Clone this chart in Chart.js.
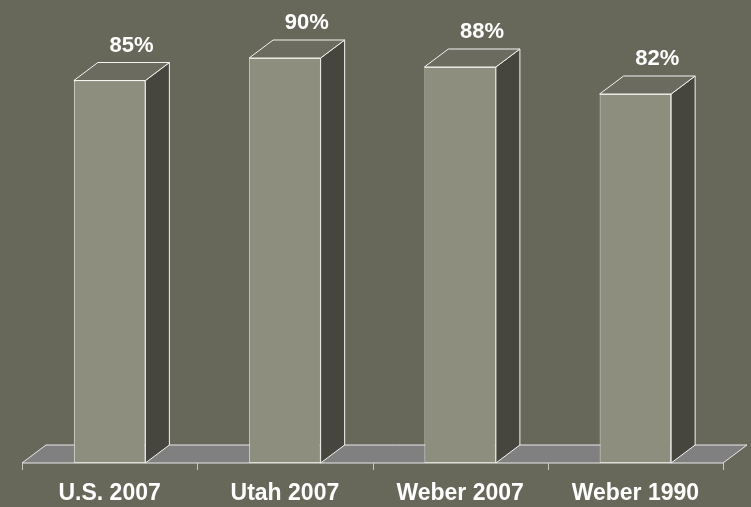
<!DOCTYPE html>
<html>
<head>
<meta charset="utf-8">
<script src="https://cdn.jsdelivr.net/npm/chart.js@4/dist/chart.umd.min.js"></script>
<style>
  html, body { margin: 0; padding: 0; background: #67685a; }
  #wrap { width: 751px; height: 507px; }
</style>
</head>
<body>
<div id="wrap"><canvas id="myChart" width="751" height="507"></canvas></div>
<script>
// data
const categories = ["U.S. 2007", "Utah 2007", "Weber 2007", "Weber 1990"];
const percentValues = [85, 90, 88, 82];
const yMin = 0;
const yMax = 100;

// 3d depth of bars and floor
const DX = 24;
const DY = 18;

// floor + ticks + bar side/top faces + value labels
const bar3d = {
  id: "bar3d",
  beforeDatasetsDraw(chart) {
    const {
      ctx,
      chartArea: { left, right, bottom },
    } = chart;
    ctx.save();
    ctx.lineWidth = 1;
    // floor
    ctx.beginPath();
    ctx.moveTo(left, bottom);
    ctx.lineTo(right, bottom);
    ctx.lineTo(right + DX, bottom - DY);
    ctx.lineTo(left + DX, bottom - DY);
    ctx.closePath();
    ctx.fillStyle = "#808080";
    ctx.fill();
    ctx.strokeStyle = "#e8e8e8";
    ctx.stroke();
    // ticks between categories
    const step = (right - left) / categories.length;
    ctx.strokeStyle = "#c8c8c0";
    for (let i = 0; i <= categories.length; i++) {
      const tx = Math.round(left + i * step) + 0.5;
      ctx.beginPath();
      ctx.moveTo(tx, bottom);
      ctx.lineTo(tx, bottom + 7);
      ctx.stroke();
    }
    ctx.restore();
  },
  afterDatasetsDraw(chart) {
    const { ctx } = chart;
    const meta = chart.getDatasetMeta(0);
    ctx.save();
    ctx.lineWidth = 1;
    ctx.strokeStyle = "#f4f4f0";
    meta.data.forEach((bar, index) => {
      const { x, y, width, base } = bar.getProps(["x", "y", "width", "base"], true);
      const l = x - width / 2;
      const r = x + width / 2;
      //side face
      ctx.beginPath();
      ctx.moveTo(r, y);
      ctx.lineTo(r + DX, y - DY);
      ctx.lineTo(r + DX, base - DY);
      ctx.lineTo(r, base);
      ctx.closePath();
      ctx.fillStyle = "#47463e";
      ctx.fill();
      ctx.stroke();
      //top face
      ctx.beginPath();
      ctx.moveTo(l, y);
      ctx.lineTo(r, y);
      ctx.lineTo(r + DX, y - DY);
      ctx.lineTo(l + DX, y - DY);
      ctx.closePath();
      ctx.fillStyle = "#6c6b5f";
      ctx.fill();
      ctx.stroke();
      //value txt
      ctx.font = "bold 22px 'Liberation Sans', Arial, sans-serif";
      ctx.fillStyle = "#ffffff";
      ctx.textAlign = "center";
      ctx.textBaseline = "alphabetic";
      ctx.fillText(percentValues[index] + "%", x + DX / 2 + 10, y - DY - 11);
    });
    ctx.restore();
  },
};

const data = {
  labels: categories,
  datasets: [
    {
      label: "Percent",
      data: percentValues,
      backgroundColor: "#8e8e7f",
      borderColor: "#dcdcd4",
      borderWidth: 1,
      borderSkipped: false,
      barPercentage: 0.408,
      categoryPercentage: 1,
    },
  ],
};

const config = {
  type: "bar",
  data,
  options: {
    responsive: false,
    animation: false,
    layout: {
      padding: { left: 22, right: 28, top: 13, bottom: 0 },
    },
    plugins: {
      legend: { display: false },
      tooltip: { enabled: false },
    },
    scales: {
      x: {
        grid: { display: false, drawTicks: false },
        border: { display: false },
        ticks: {
          color: "#ffffff",
          padding: 17,
          maxRotation: 0,
          font: { family: "'Liberation Sans', Arial, sans-serif", size: 23, weight: "bold" },
        },
        afterFit(scale) {
          scale.height = 44;
        },
      },
      y: {
        display: false,
        min: yMin,
        max: yMax,
      },
    },
  },
  plugins: [bar3d],
};

var chartInstance = new Chart(document.getElementById("myChart"), config);
</script>
</body>
</html>
